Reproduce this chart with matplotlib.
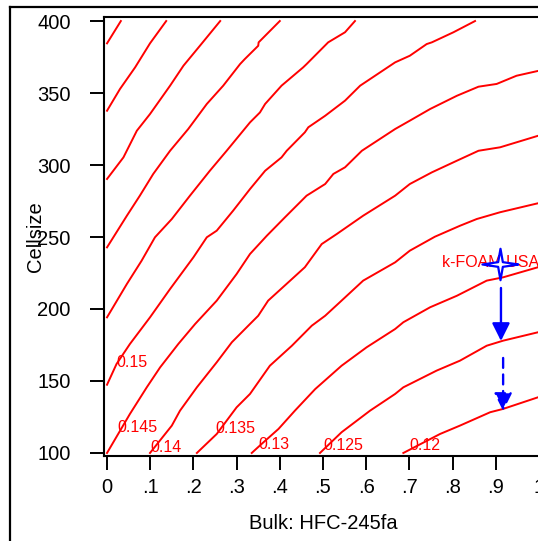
import matplotlib
matplotlib.use("Agg")
import matplotlib.pyplot as plt
from matplotlib.lines import Line2D

plt.rcParams['font.family'] = ['Liberation Sans', 'DejaVu Sans']

# contour lines: bulk share (x) and cell size (y)
bulk_0175 = [0.0, 0.032]
cell_0175 = [384.5, 400]

bulk_017 = [0.0, 0.030, 0.065, 0.0995, 0.137]
cell_017 = [337.7, 352.8, 367.8, 384.5, 400]

bulk_0165 = [0.0, 0.038, 0.069, 0.0995, 0.146, 0.177, 0.215, 0.262]
cell_0165 = [290.3, 305.3, 323.8, 335.4, 355.1, 369.0, 382.8, 400]

bulk_016 = [0.0, 0.046, 0.076, 0.107, 0.146, 0.188, 0.231, 0.269, 0.308, 0.319, 0.350, 0.351, 0.400]
cell_016 = [242.8, 264.8, 278.7, 293.8, 309.9, 325.0, 342.4, 355.1, 370.1, 373.6, 382.8, 385.2, 400]

bulk_0155 = [0.0, 0.046, 0.080, 0.111, 0.150, 0.192, 0.238, 0.277, 0.331, 0.354, 0.366,
             0.404, 0.454, 0.462, 0.512, 0.551, 0.574]
cell_0155 = [194.2, 217.4, 233.5, 249.8, 262.5, 278.7, 296.0, 309.9, 329.6, 336.5, 342.4,
             355.1, 367.8, 370.1, 385.2, 392.2, 400]

bulk_015 = [0.0, 0.022, 0.053, 0.0995, 0.146, 0.200, 0.231, 0.254, 0.292, 0.331, 0.366, 0.404,
            0.416, 0.458, 0.466, 0.505, 0.551, 0.586, 0.644, 0.667, 0.701, 0.740, 0.752, 0.802, 0.852]
cell_015 = [147.4, 161.8, 175.7, 194.2, 213.9, 235.9, 249.8, 254.4, 268.3, 283.3, 296.0, 305.3,
            309.9, 322.7, 326.2, 334.2, 344.7, 355.1, 366.7, 371.3, 375.9, 384.0, 385.2, 392.2, 400]

bulk_0145 = [0.0, 0.053, 0.092, 0.123, 0.165, 0.204, 0.254, 0.300, 0.331, 0.370, 0.412, 0.462,
             0.505, 0.524, 0.551, 0.590, 0.667, 0.701, 0.748, 0.810, 0.860, 0.902, 0.948, 1.0]
cell_0145 = [100, 127.1, 145.6, 159.5, 175.7, 189.6, 205.8, 224.3, 238.2, 250.9, 263.7, 278.7,
             286.8, 293.8, 298.4, 309.9, 325.0, 330.8, 338.9, 348.1, 354.4, 356.3, 362.0, 365.5]

bulk_014 = [0.0995, 0.150, 0.169, 0.208, 0.254, 0.289, 0.331, 0.350, 0.373, 0.424, 0.458, 0.497,
            0.532, 0.593, 0.667, 0.701, 0.752, 0.810, 0.860, 0.910, 1.0]
cell_014 = [100, 119.0, 129.4, 145.6, 163.0, 176.9, 189.6, 195.3, 205.8, 219.7, 229.0, 245.1,
            252.1, 264.8, 278.7, 286.8, 294.9, 303.0, 309.9, 312.3, 320.5]

bulk_0135 = [0.208, 0.254, 0.300, 0.331, 0.350, 0.377, 0.428, 0.474, 0.505, 0.539, 0.593, 0.667,
             0.701, 0.759, 0.817, 0.856, 0.910, 1.0]
cell_0135 = [100, 113.2, 131.7, 141.0, 149.1, 160.6, 174.5, 188.4, 195.3, 204.7, 219.7, 232.4,
             240.5, 250.2, 257.8, 262.5, 267.2, 273.6]

bulk_013 = [0.335, 0.358, 0.397, 0.435, 0.482, 0.543, 0.601, 0.667, 0.686, 0.748, 0.810, 0.879, 0.917, 1.0]
cell_013 = [100, 106.3, 116.7, 129.4, 144.4, 160.6, 173.4, 186.1, 190.8, 201.2, 209.2, 219.7, 222.0, 229.2]

bulk_0125 = [0.493, 0.543, 0.609, 0.667, 0.686, 0.763, 0.817, 0.879, 0.917, 1.0]
cell_0125 = [100, 114.4, 129.4, 141.0, 145.6, 157.2, 164.1, 174.5, 178.0, 184.0]

bulk_012 = [0.686, 0.771, 0.817, 0.887, 0.917, 1.0]
cell_012 = [100, 113.2, 119.0, 128.3, 130.6, 138.9]

# label texts and where they sit
label_text = ["0.15", "0.145", "0.14", "0.135", "0.13", "0.125", "0.12"]
label_bulk = [0.022, 0.025, 0.0995, 0.25, 0.35, 0.50, 0.70]
label_cell = [163, 118, 104, 117, 106, 105, 105]

# k-FOAM USA point and the two moves below it
foam_bulk, foam_cell = 0.91, 231.2
move1_bulk, move1_from, move1_to = 0.912, 214.6, 177.8
move2_bulk, move2_from, move2_to = 0.917, 166.0, 129.2

xticks = [0, .1, .2, .3, .4, .5, .6, .7, .8, .9, 1]
xticklabels = ["0", ".1", ".2", ".3", ".4", ".5", ".6", ".7", ".8", ".9", "1"]
yticks = [100, 150, 200, 250, 300, 350, 400]

lines = [
    (bulk_0175, cell_0175), (bulk_017, cell_017), (bulk_0165, cell_0165),
    (bulk_016, cell_016), (bulk_0155, cell_0155), (bulk_015, cell_015),
    (bulk_0145, cell_0145), (bulk_014, cell_014), (bulk_0135, cell_0135),
    (bulk_013, cell_013), (bulk_0125, cell_0125), (bulk_012, cell_012),
]

fig = plt.figure(figsize=(5.38, 5.41), dpi=100)
W, H = 538, 541
ax = fig.add_axes([104 / W, 85 / H, (542 - 104) / W, (456 - 17) / H])

for bx, cy in lines:
    ax.plot(bx, cy, color="red", lw=1.4, zorder=3)

for t, bx, cy in zip(label_text, label_bulk, label_cell):
    ax.text(bx, cy, t, color="red", fontsize=11.5, ha="left", va="center", zorder=2)

# blue four-pointed star
star = [(1, 0), (0.13, 0.13), (0, 0.87), (-0.13, 0.13), (-1, 0),
        (-0.13, -0.13), (0, -0.87), (0.13, -0.13), (1, 0)]
ax.text(0.775, 232.6, "k-FOAM USA", color="red", fontsize=11.5, ha="left", va="center", zorder=2)
ax.plot([foam_bulk], [foam_cell], marker=star, ms=26, mfc="white", mec="blue", mew=1.6,
        ls="none", zorder=5)

ax.annotate("", xy=(move1_bulk, move1_to), xytext=(move1_bulk, move1_from),
            arrowprops=dict(arrowstyle="-|>", color="blue", lw=1.7, mutation_scale=27,
                            shrinkA=0, shrinkB=0), zorder=5)
ax.annotate("", xy=(move2_bulk, move2_to), xytext=(move2_bulk, move2_from),
            arrowprops=dict(arrowstyle="-|>", color="blue", lw=1.7, mutation_scale=27,
                            linestyle=(0, (4.2, 2.8)), shrinkA=0, shrinkB=0), zorder=5)

ax.set_xlim(-0.007, 1.007)
ax.set_ylim(97.9, 402.8)
ax.set_xticks(xticks)
ax.set_xticklabels(xticklabels)
ax.set_yticks(yticks)
ax.tick_params(axis="both", direction="out", length=10, width=1.4, labelsize=14.5)
ax.tick_params(axis="x", pad=6)
ax.tick_params(axis="y", pad=14)
for s in ["left", "bottom", "top", "right"]:
    ax.spines[s].set_linewidth(1.5)

ax.set_xlabel("Bulk: HFC-245fa", fontsize=14.5, labelpad=12)
ax.set_ylabel("Cellsize", fontsize=14.5)
ax.yaxis.set_label_coords(-0.135, 0.5)

# outer graph border, partly cut off
fig.add_artist(Line2D([10 / W, 1], [1 - 7 / H, 1 - 7 / H], color="black", lw=1.6,
                      transform=fig.transFigure))
fig.add_artist(Line2D([10 / W, 10 / W], [0, 1 - 7 / H], color="black", lw=1.6,
                      transform=fig.transFigure))

fig.savefig("out.png", dpi=100)
